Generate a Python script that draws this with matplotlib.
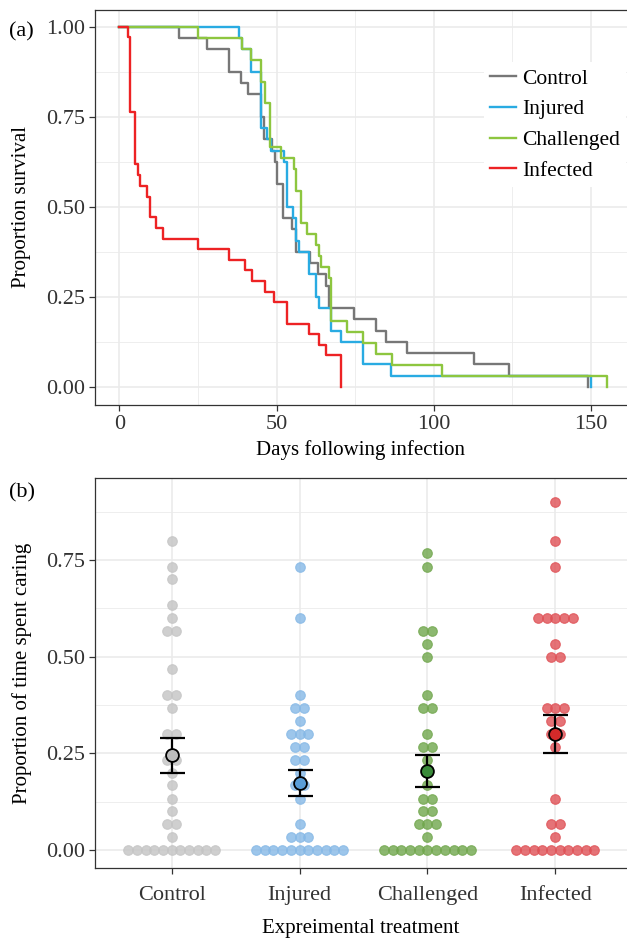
import numpy as np
import matplotlib.pyplot as plt
from matplotlib.ticker import MultipleLocator, FixedLocator

plt.rcParams['font.family'] = ['Liberation Serif', 'DejaVu Serif']

# ---- (a) survival curves: step times (days) and proportion surviving ----
ctrl_days = [0, 18.9, 27.9, 35.0, 38.8, 40.9, 44.9, 45.9, 48.6, 49.6, 50.2, 52.0, 54.9,
             56.3, 60.5, 63.2, 65.6, 66.6, 74.5, 81.5, 84.7, 91.6, 112.7, 124.0, 149.0]
ctrl_surv = [1.0, 0.969, 0.938, 0.875, 0.844, 0.813, 0.750, 0.688, 0.656, 0.625, 0.563, 0.469, 0.438,
             0.375, 0.344, 0.313, 0.281, 0.219, 0.188, 0.156, 0.125, 0.094, 0.063, 0.031, 0.0]

inj_days = [0, 38.2, 39.0, 41.9, 44.9, 47.0, 48.3, 52.3, 53.2, 55.2, 56.3, 57.1, 60.3,
            62.4, 63.5, 67.2, 70.4, 77.5, 86.5, 150.0]
inj_surv = [1.0, 0.969, 0.938, 0.875, 0.719, 0.688, 0.656, 0.625, 0.500, 0.469, 0.406, 0.375, 0.313,
            0.250, 0.219, 0.156, 0.125, 0.063, 0.031, 0.0]

chal_days = [0, 24.9, 39.0, 41.9, 45.1, 46.2, 48.0, 51.3, 55.5, 56.3, 57.9, 59.7, 62.6,
             63.5, 64.2, 66.6, 67.4, 72.4, 77.5, 81.7, 86.7, 102.5, 155.3]
chal_surv = [1.0, 0.970, 0.939, 0.909, 0.848, 0.788, 0.667, 0.636, 0.606, 0.545, 0.455, 0.424, 0.394,
             0.364, 0.333, 0.303, 0.182, 0.152, 0.121, 0.091, 0.061, 0.030, 0.0]

inf_days = [0, 2.6, 3.5, 4.8, 5.8, 6.5, 8.8, 9.6, 11.7, 13.8, 24.9, 35.0, 40.1,
            42.3, 46.2, 49.1, 53.3, 60.3, 63.5, 65.6, 70.4]
inf_surv = [1.0, 0.971, 0.765, 0.618, 0.588, 0.559, 0.529, 0.471, 0.441, 0.412, 0.382, 0.353, 0.324,
            0.294, 0.265, 0.235, 0.176, 0.147, 0.118, 0.088, 0.0]

# ---- (b) proportion of time spent caring, one value per individual ----
treatments = ["Control", "Injured", "Challenged", "Infected"]
control_care = [0.800, 0.733, 0.700, 0.633, 0.600, 0.567, 0.567, 0.467, 0.400, 0.400, 0.367,
                0.300, 0.300, 0.233, 0.233, 0.200, 0.167, 0.133, 0.100, 0.067, 0.067, 0.033,
                0, 0, 0, 0, 0, 0, 0, 0, 0, 0, 0]
injured_care = [0.733, 0.600, 0.400, 0.367, 0.367, 0.333, 0.300, 0.300, 0.300, 0.267, 0.267,
                0.233, 0.233, 0.200, 0.167, 0.167, 0.133, 0.067, 0.033, 0.033, 0.033,
                0, 0, 0, 0, 0, 0, 0, 0, 0, 0, 0]
challenged_care = [0.767, 0.733, 0.567, 0.567, 0.533, 0.500, 0.400, 0.367, 0.367, 0.300, 0.267,
                   0.267, 0.233, 0.167, 0.133, 0.133, 0.100, 0.100, 0.067, 0.067, 0.067, 0.033,
                   0, 0, 0, 0, 0, 0, 0, 0, 0, 0, 0]
infected_care = [0.900, 0.800, 0.733, 0.600, 0.600, 0.600, 0.600, 0.600, 0.533, 0.500, 0.500,
                 0.367, 0.367, 0.367, 0.333, 0.333, 0.300, 0.300, 0.267, 0.133, 0.067, 0.067, 0.033,
                 0, 0, 0, 0, 0, 0, 0, 0, 0, 0]

line_cols = ["#777777", "#29abe2", "#8dc63f", "#ed2224"]
dot_cols = ["#c4c4c4", "#85b8e6", "#70a64c", "#df5055"]
mean_cols = ["#bdbdbd", "#5a9ed8", "#3a8a3a", "#d42a2a"]

grid_col = "#ebebeb"
dark = "#333333"

fig = plt.figure(figsize=(6.27, 9.42), dpi=100)
ax1 = fig.add_axes([95 / 627, 1 - 405 / 942, 537 / 627, 395 / 942])
ax2 = fig.add_axes([95 / 627, 1 - 868 / 942, 537 / 627, 390 / 942])

for ax in (ax1, ax2):
    ax.set_axisbelow(True)
    ax.grid(which="major", color=grid_col, lw=1.2)
    ax.grid(which="minor", color=grid_col, lw=0.6)
    ax.tick_params(which="major", direction="out", length=4, width=0.9, color=dark,
                   labelsize=16, labelcolor=dark, pad=3)
    ax.tick_params(which="minor", length=0)
    for s in ax.spines.values():
        s.set_color(dark)
        s.set_linewidth(0.9)
ax2.tick_params(axis="x", pad=9)

# ---- panel (a) ----
curves = [(ctrl_days, ctrl_surv), (inj_days, inj_surv), (chal_days, chal_surv), (inf_days, inf_surv)]
for (d, s), col, name in zip(curves, line_cols, treatments):
    ax1.step(d, s, where="post", color=col, lw=1.7, label=name)

ax1.set_xlim(-7.77, 163.1)
ax1.set_ylim(-0.05, 1.047)
ax1.xaxis.set_major_locator(MultipleLocator(50))
ax1.xaxis.set_minor_locator(MultipleLocator(25))
ax1.yaxis.set_major_locator(MultipleLocator(0.25))
ax1.yaxis.set_minor_locator(MultipleLocator(0.125))
ax1.yaxis.set_major_formatter(plt.FormatStrFormatter("%.2f"))

leg = ax1.legend(loc="upper left", bbox_to_anchor=(484 / 627, 1 - 62 / 942),
                 bbox_transform=fig.transFigure, fontsize=15.5, frameon=True,
                 handlelength=1.2, handletextpad=0.25, labelspacing=0.5,
                 borderpad=0.3, borderaxespad=0)
leg.get_frame().set_facecolor("white")
leg.get_frame().set_edgecolor("none")
leg.get_frame().set_alpha(1)

# ---- panel (b) ----
groups = [control_care, injured_care, challenged_care, infected_care]
dx = 0.068
for i, vals in enumerate(groups):
    pos = i + 1
    vals = np.round(np.array(vals, dtype=float), 3)
    xs, ys = [], []
    for v in np.unique(vals):
        k = int(np.sum(vals == v))
        offs = (np.arange(k) - (k - 1) / 2) * dx
        xs.extend(pos + offs)
        ys.extend([v] * k)
    ax2.scatter(xs, ys, s=48, color=dot_cols[i], alpha=0.8, edgecolors=dot_cols[i],
                linewidths=0.8, zorder=3)
    m = vals.mean()
    se = vals.std(ddof=1) / np.sqrt(len(vals))
    ax2.errorbar(pos, m, yerr=se, fmt="none", ecolor="black", elinewidth=1.6,
                 capsize=9, capthick=1.6, zorder=4)
    ax2.scatter([pos], [m], s=85, color=mean_cols[i], edgecolors="black",
                linewidths=1.3, zorder=5)

ax2.set_xlim(0.4, 4.6)
ax2.set_ylim(-0.0465, 0.962)
ax2.xaxis.set_major_locator(FixedLocator([1, 2, 3, 4]))
ax2.set_xticklabels(treatments)
ax2.yaxis.set_major_locator(MultipleLocator(0.25))
ax2.yaxis.set_minor_locator(MultipleLocator(0.125))
ax2.yaxis.set_major_formatter(plt.FormatStrFormatter("%.2f"))

# ---- labels ----
fig.text(361 / 627, 1 - 450 / 942, "Days following infection", ha="center", va="center", fontsize=15)
fig.text(22 / 627, 1 - 207 / 942, "Proportion survival", ha="center", va="center",
         rotation=90, fontsize=15)
fig.text(361 / 627, 1 - 929 / 942, "Expreimental treatment", ha="center", va="center", fontsize=15)
fig.text(22 / 627, 1 - 673 / 942, "Proportion of time spent caring", ha="center", va="center",
         rotation=90, fontsize=15)
fig.text(9 / 627, 1 - 32 / 942, "(a)", ha="left", va="center", fontsize=16)
fig.text(9 / 627, 1 - 493 / 942, "(b)", ha="left", va="center", fontsize=16)

fig.savefig("out.png", dpi=100)
